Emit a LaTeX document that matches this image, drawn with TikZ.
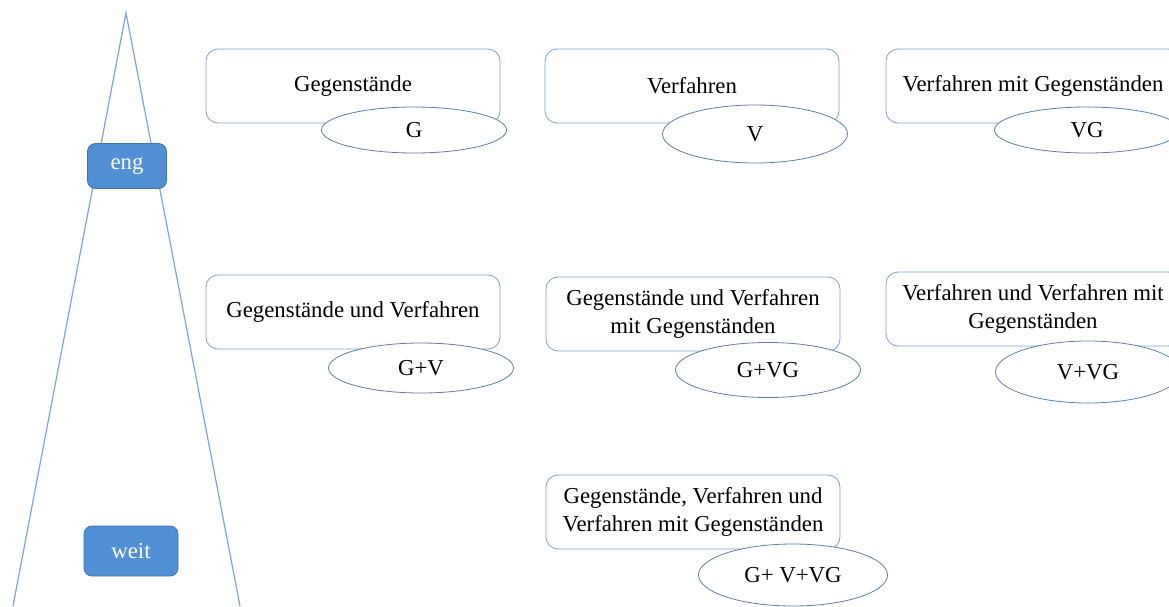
\documentclass[tikz,border=0pt]{standalone}
\usepackage{fontspec}
\setmainfont{Liberation Serif}
\usetikzlibrary{positioning}
\usetikzlibrary{shapes.geometric}

\definecolor{boxline}{HTML}{7EA3D3}
\definecolor{tagline}{HTML}{5E7EA8}
\definecolor{levelfill}{HTML}{5290D6}
\definecolor{levelline}{HTML}{3F72AE}
\definecolor{coneline}{HTML}{7FA4D4}

\begin{document}
\begin{tikzpicture}[x=0.5pt, y=-0.5pt,
	topic/.style={draw=boxline, rounded corners=6pt, fill=white, minimum width=147pt, minimum height=37pt, align=center, inner sep=2pt, font=\fontsize{11.4}{14}\selectfont},
	tag/.style={ellipse, draw=tagline, fill=white, minimum width=92.5pt, inner sep=0pt, font=\fontsize{11.4}{14}\selectfont},
	level/.style={draw=levelline, fill=levelfill, rounded corners=4pt, text=white, inner sep=0pt, font=\fontsize{11.4}{14}\selectfont}]
			% fix the page to the size of the reference
			\useasboundingbox (0,0) rectangle (1169,606);
			\clip (0,0) rectangle (1169,606);

			% the cone from narrow to wide
			\coordinate (apex) at (126,13);
			\coordinate (bl) at (13,606);
			\coordinate (br) at (240,606);
			\draw[coneline, line width=0.6pt] (bl) -- (apex) -- (br);

			\node[level, minimum width=39.5pt, minimum height=22.5pt] (eng) at (127,166) {eng};
			\node[level, minimum width=47pt, minimum height=25pt] (weit) at (131,551) {weit};

			% first row
			\node[topic] (g) at (353,86) {Gegenstände};
			\node[topic] (v) at (692,86) {Verfahren};
			\node[topic] (vg) at (1033,86) {Verfahren mit Gegenständen};
			\node[tag, minimum height=23pt] (tg) at (414,130) {G};
			\node[tag, minimum height=29pt] (tv) at (755,134) {V};
			\node[tag, minimum height=23pt] (tvg) at (1087,130) {VG};

			% second row
			\node[topic] (gv) at (353,312) {Gegenstände und Verfahren};
			\node[topic] (gvg) at (693,314) {Gegenstände und Verfahren\\mit Gegenständen};
			\node[topic] (vvg) at (1033,309) {Verfahren und Verfahren mit\\Gegenständen};
			\node[tag, minimum height=25pt] (tgv) at (421,368) {G+V};
			\node[tag, minimum height=27.5pt] (tgvg) at (768,370) {G+VG};
			\node[tag, minimum height=31pt] (tvvg) at (1088,372) {V+VG};

			% third row
			\node[topic] (gvvg) at (693,512) {Gegenstände, Verfahren und\\Verfahren mit Gegenständen};
			\node[tag, minimum width=94.5pt, minimum height=31pt] (tgvvg) at (793,575) {G+ V+VG};
\end{tikzpicture}
\end{document}
